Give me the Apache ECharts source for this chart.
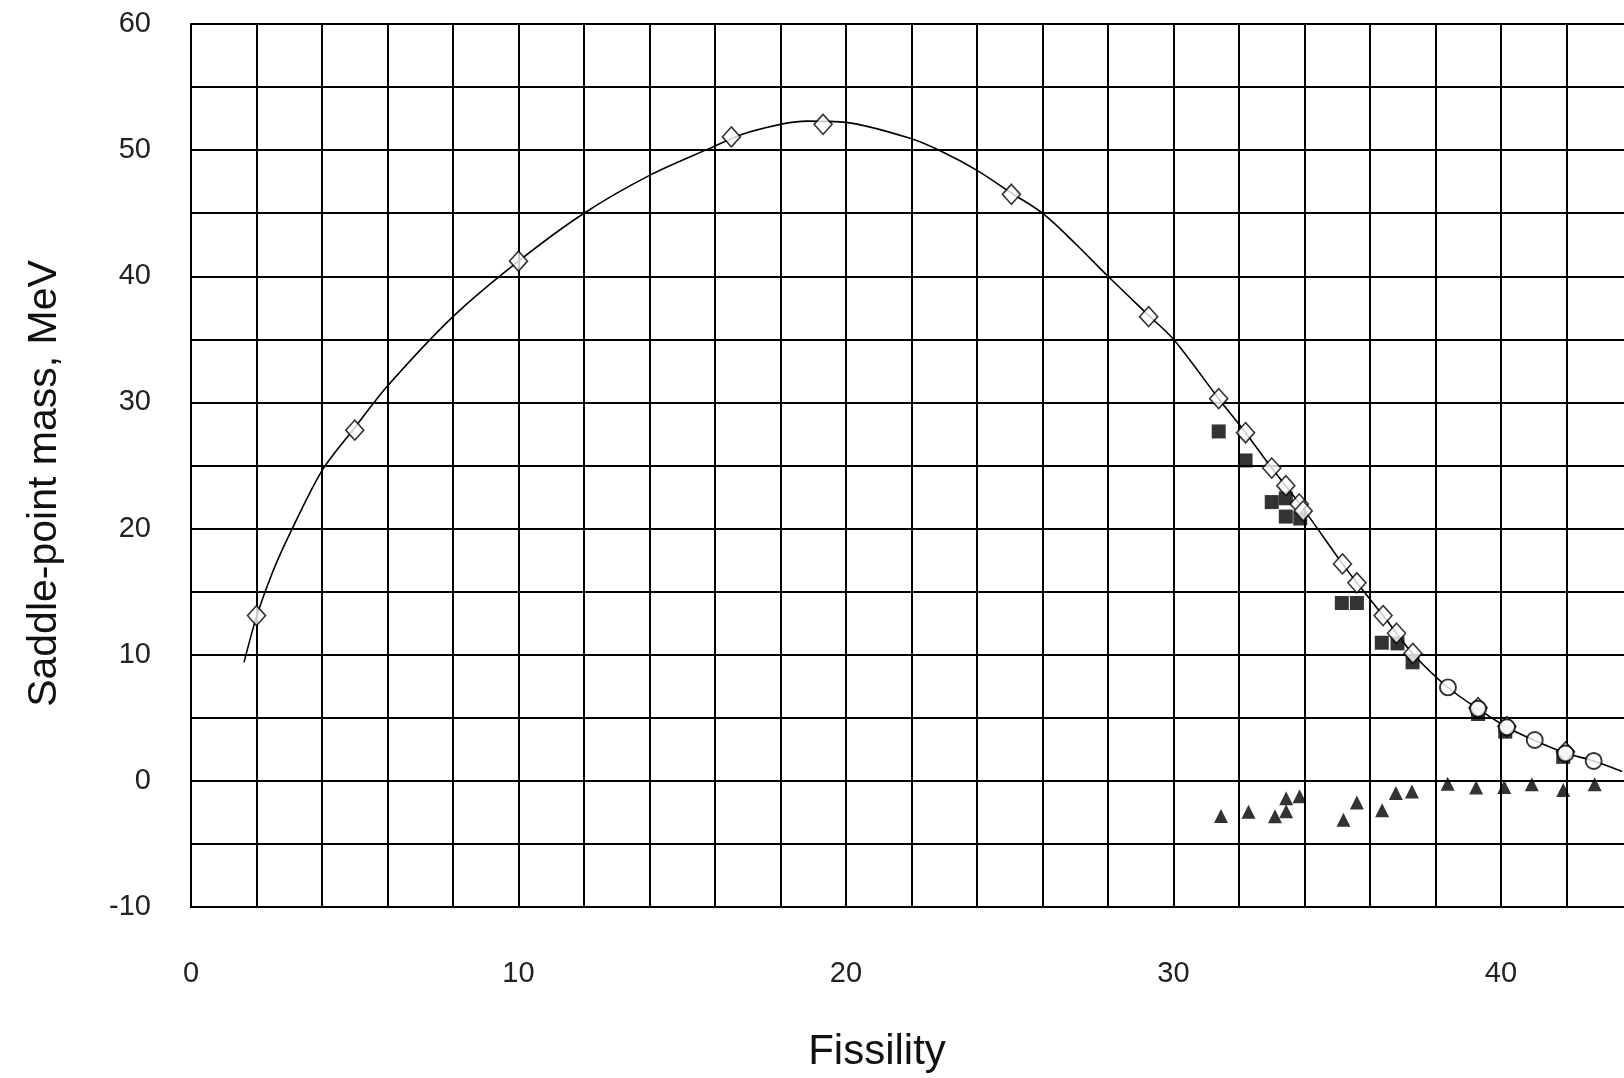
<!DOCTYPE html>
<html>
<head>
<meta charset="utf-8">
<script src="https://cdn.jsdelivr.net/npm/echarts@6/dist/echarts.min.js"></script>
<style>
html,body{margin:0;padding:0;background:#fff;overflow:hidden;width:1624px;height:1078px;}
#chart{width:1644px;height:1078px;}
</style>
</head>
<body>
<div id="chart"></div>
<script>
// Fitted curve through the open symbols
const fitX = [1.62, 2.0, 2.5, 3.0, 4.0, 5.0, 6.0, 8.0, 10.0, 12.0, 14.0, 15.8, 17.0, 18.8, 20.0, 22.0, 23.0, 24.0, 25.05, 26.0, 27.0, 28.0, 29.24, 30.0, 31.38, 32.2, 33.0, 33.9, 35.16, 35.6, 36.4, 37.3, 38.38, 39.3, 40.18, 41.03, 41.97, 42.83, 43.7];
const fitY = [9.4, 13.0, 16.6, 19.5, 24.6, 28.0, 31.3, 36.8, 41.2, 45.0, 48.0, 50.1, 51.4, 52.3, 52.2, 50.9, 49.8, 48.4, 46.6, 45.0, 42.6, 40.0, 36.9, 35.0, 30.3, 27.6, 24.8, 21.8, 17.2, 15.7, 13.1, 10.1, 7.4, 5.7, 4.25, 3.2, 2.2, 1.58, 0.75];

// Open diamonds
const diamondX = [2.0, 5.0, 10.0, 16.5, 19.3, 25.05, 29.24, 31.38, 32.2, 33.0, 33.43, 33.84, 33.96, 35.16, 35.6, 36.4, 36.81, 37.31, 39.3, 40.18, 41.97];
const diamondY = [13.1, 27.8, 41.2, 51.05, 52.05, 46.5, 36.8, 30.3, 27.6, 24.8, 23.4, 21.95, 21.4, 17.2, 15.7, 13.1, 11.7, 10.1, 5.8, 4.3, 2.3];

// Open circles
const circleX = [38.38, 39.3, 40.18, 41.03, 41.97, 42.83];
const circleY = [7.41, 5.72, 4.25, 3.24, 2.17, 1.58];

// Filled squares
const squareX = [31.38, 32.2, 33.0, 33.43, 33.43, 33.87, 35.14, 35.6, 36.36, 36.84, 37.3, 39.3, 40.13, 41.9];
const squareY = [27.7, 25.4, 22.1, 22.4, 20.95, 20.8, 14.1, 14.1, 10.95, 10.9, 9.4, 5.3, 3.9, 1.9];

// Filled triangles
const triX = [31.45, 32.29, 33.1, 33.44, 33.44, 33.85, 35.19, 35.6, 36.37, 36.79, 37.28, 38.37, 39.24, 40.1, 40.94, 41.9, 42.86];
const triY = [-2.78, -2.45, -2.8, -1.37, -2.41, -1.22, -3.08, -1.71, -2.33, -0.96, -0.85, -0.23, -0.52, -0.49, -0.26, -0.73, -0.26];

// Axes
const xMin = 0, xMax = 44, xStep = 2;
const yMin = -10, yMax = 60, yStep = 5;
const xLabelEvery = 10;
const yLabelEvery = 10;
const xTitle = 'Fissility';
const yTitle = 'Saddle-point mass, MeV';

const zip = (a, b) => a.map((v, i) => [v, b[i]]);
const font = '"Liberation Sans", Arial, Helvetica, sans-serif';

const chart = echarts.init(document.getElementById('chart'), null, {renderer: 'canvas'});
chart.setOption({
  animation: false,
  backgroundColor: '#ffffff',
  grid: {left: 191, top: 24, width: 1441, bottom: 171, containLabel: false},
  xAxis: {
    type: 'value', min: xMin, max: xMax, interval: xStep,
    name: xTitle, nameLocation: 'middle', nameGap: 124,
    nameTextStyle: {fontFamily: font, fontSize: 42, color: '#111', padding: [0, 69, 0, 0]},
    axisLine: {show: true, onZero: false, lineStyle: {color: '#000', width: 2}},
    axisTick: {show: false},
    axisLabel: {margin: 52, fontFamily: font, fontSize: 29, color: '#222',
      formatter: v => (v % xLabelEvery === 0 && v < xMax) ? String(v) : ''},
    splitLine: {show: true, lineStyle: {color: '#000', width: 2}}
  },
  yAxis: {
    type: 'value', min: yMin, max: yMax, interval: yStep,
    name: yTitle, nameLocation: 'middle', nameGap: 126,
    nameTextStyle: {fontFamily: font, fontSize: 41, color: '#111', padding: [0, 36, 0, 0]},
    axisLine: {show: true, onZero: false, lineStyle: {color: '#000', width: 2}},
    axisTick: {show: false},
    axisLabel: {margin: 40, fontFamily: font, fontSize: 29, color: '#222',
      formatter: v => (v % yLabelEvery === 0) ? String(v) : ''},
    splitLine: {show: true, lineStyle: {color: '#000', width: 2}}
  },
  series: [
    {type: 'line', data: zip(fitX, fitY), smooth: 0.3, showSymbol: false, symbol: 'none',
     lineStyle: {color: '#000', width: 1.6}, z: 3, silent: true},
    {type: 'scatter', data: zip(squareX, squareY), symbol: 'rect', symbolSize: 14,
     itemStyle: {color: '#000'}, z: 4},
    {type: 'scatter', data: zip(diamondX, diamondY), symbol: 'diamond', symbolSize: [18, 20],
     itemStyle: {color: '#fff', borderColor: '#000', borderWidth: 1.6}, z: 5},
    {type: 'scatter', data: zip(circleX, circleY), symbol: 'circle', symbolSize: 16,
     itemStyle: {color: '#fff', borderColor: '#000', borderWidth: 1.9}, z: 5},
    {type: 'scatter', data: zip(triX, triY), symbol: 'triangle', symbolSize: 14,
     itemStyle: {color: '#000'}, z: 6}
  ]
});
</script>
</body>
</html>
